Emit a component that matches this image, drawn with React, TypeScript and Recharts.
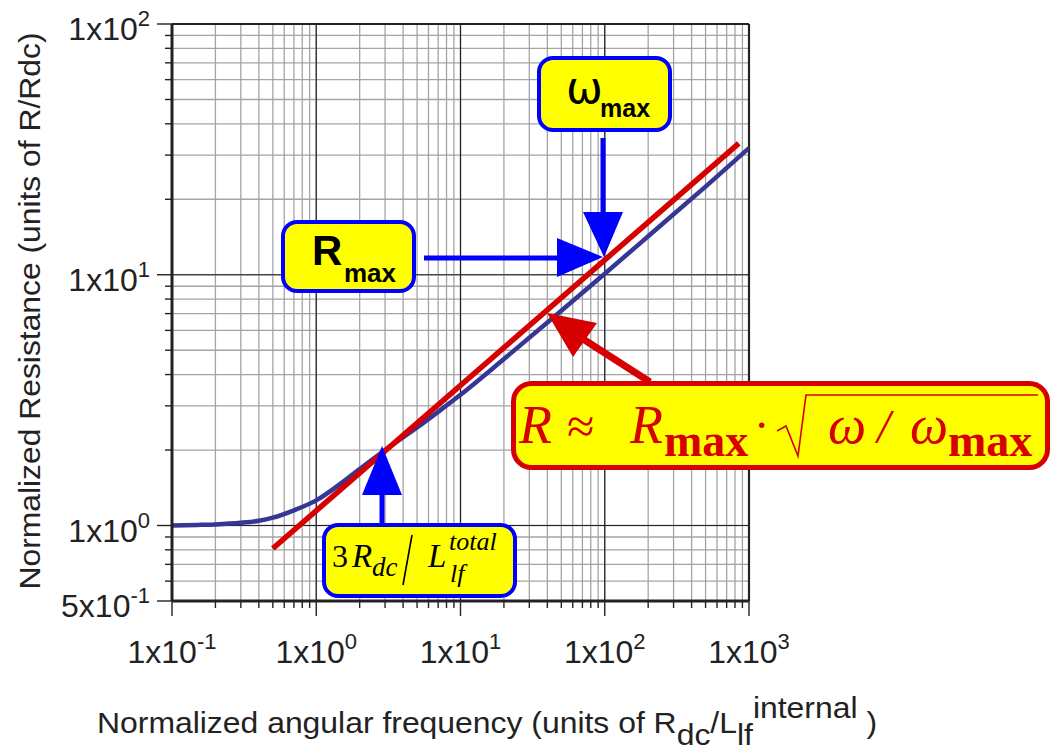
import React from 'react';
import { LineChart, Line, XAxis, YAxis, CartesianGrid, ReferenceLine } from 'recharts';

// Normalized resistance curve R/Rdc against normalized angular frequency
const omegaBlue = [0.1, 0.15, 0.2, 0.3, 0.4, 0.5, 0.7, 1, 1.5, 2, 3, 5, 7, 10, 20, 50, 100, 200, 500, 1000];
const resistanceBlue = [1.0, 1.005, 1.01, 1.025, 1.045, 1.075, 1.15, 1.26, 1.48, 1.68, 2.0, 2.46, 2.84, 3.32, 4.61, 7.19, 10.1, 14.24, 22.47, 32.0];

// High-frequency square-root asymptote
const omegaRed = [0.5, 850];
const resistanceRed = [0.81, 33.4];

// Logarithmic tick positions (every 1..9 of each decade)
const xTicks = [0.1, 0.2, 0.3, 0.4, 0.5, 0.6, 0.7, 0.8, 0.9, 1, 2, 3, 4, 5, 6, 7, 8, 9, 10, 20, 30, 40, 50, 60, 70, 80, 90, 100, 200, 300, 400, 500, 600, 700, 800, 900, 1000];
const yTicks = [0.5, 0.6, 0.7, 0.8, 0.9, 1, 2, 3, 4, 5, 6, 7, 8, 9, 10, 20, 30, 40, 50, 60, 70, 80, 90, 100];

const xMajor = [0.1, 1, 10, 100, 1000];
const xMajorBase = ['1x10', '1x10', '1x10', '1x10', '1x10'];
const xMajorExp = ['-1', '0', '1', '2', '3'];
const yMajor = [0.5, 1, 10, 100];
const yMajorBase = ['5x10', '1x10', '1x10', '1x10'];
const yMajorExp = ['-1', '0', '1', '2'];

const blueData = omegaBlue.map((w, i) => ({ w, r: resistanceBlue[i] }));
const redData = omegaRed.map((w, i) => ({ w, r: resistanceRed[i] }));

const SANS = '"Liberation Sans", Arial, Helvetica, sans-serif';
const SERIF = '"Liberation Serif", "Times New Roman", serif';
const AXIS = '#222222';
const MINOR = '#a4a4a4';
const BLUE_CURVE = '#363696';
const RED = '#d60000';
const YELLOW = '#ffff00';
const BOX_BLUE = '#0000ff';

const XTick = (props: any) => {
  const { x, y, payload } = props;
  const i = xMajor.indexOf(payload.value);
  const major = i >= 0;
  return (
    <g>
      <line x1={x} x2={x} y1={y} y2={y + (major ? 15 : 7)} stroke={AXIS} strokeWidth={1.4} />
      {major && (
        <text x={x} y={y + 62} textAnchor="middle" fontFamily={SANS} fontSize={32} fill="#222">
          <tspan>{xMajorBase[i]}</tspan>
          <tspan dy={-14} fontSize={22}>{xMajorExp[i]}</tspan>
        </text>
      )}
    </g>
  );
};

const YTick = (props: any) => {
  const { x, y, payload } = props;
  const i = yMajor.indexOf(payload.value);
  const major = i >= 0;
  return (
    <g>
      <line x1={x - (major ? 15 : 7)} x2={x} y1={y} y2={y} stroke={AXIS} strokeWidth={1.4} />
      {major && (
        <text x={x - 22} y={y + 16} textAnchor="end" fontFamily={SANS} fontSize={32} fill="#222">
          <tspan>{yMajorBase[i]}</tspan>
          <tspan dy={-14} fontSize={22}>{yMajorExp[i]}</tspan>
        </text>
      )}
    </g>
  );
};

const Annotations = () => (
  <svg
    width={1054}
    height={752}
    style={{ position: 'absolute', left: 0, top: 0, pointerEvents: 'none' }}
  >
    {/* axis titles */}
    <text
      transform="translate(40,311) rotate(-90)"
      textAnchor="middle"
      fontFamily={SANS}
      fontSize={30}
      fill="#222"
      textLength={557}
      lengthAdjust="spacingAndGlyphs"
    >
      Normalized Resistance (units of R/Rdc)
    </text>
    <text
      x={97}
      y={733}
      fontFamily={SANS}
      fontSize={30}
      fill="#222"
      textLength={780}
      lengthAdjust="spacingAndGlyphs"
    >
      <tspan>Normalized angular frequency (units of R</tspan>
      <tspan dy={12}>dc</tspan>
      <tspan dy={-12}>/L</tspan>
      <tspan dy={12}>lf</tspan>
      <tspan dy={-27}>internal</tspan>
      <tspan dy={15}> )</tspan>
    </text>

    {/* R_max arrow */}
    <line x1={424} y1={258} x2={560} y2={258} stroke={BOX_BLUE} strokeWidth={5} />
    <polygon points="557,238 557,277 603,257" fill={BOX_BLUE} />
    {/* omega_max arrow */}
    <line x1={603} y1={138} x2={603} y2={214} stroke={BOX_BLUE} strokeWidth={5} />
    <polygon points="583,212 623,212 604,257" fill={BOX_BLUE} />
    {/* corner frequency arrow */}
    <line x1={382} y1={524} x2={382} y2={492} stroke={BOX_BLUE} strokeWidth={5} />
    <polygon points="362,495 402,495 382,446" fill={BOX_BLUE} />
    {/* asymptote arrow */}
    <line x1={650} y1={382} x2={583} y2={339} stroke={RED} strokeWidth={7} />
    <polygon points="547,313 597,323 573,357" fill={RED} />

    {/* R_max box */}
    <rect x={283} y={222} width={131} height={69} rx={14} fill={YELLOW} stroke={BOX_BLUE} strokeWidth={4} />
    <text x={312} y={265} fontFamily={SANS} fontWeight="bold" fontSize={42} fill="#000">R</text>
    <text x={344} y={282} fontFamily={SANS} fontWeight="bold" fontSize={26} fill="#000">max</text>

    {/* omega_max box */}
    <rect x={539} y={58} width={131} height={72} rx={14} fill={YELLOW} stroke={BOX_BLUE} strokeWidth={4} />
    <text x={566} y={103} fontFamily='"DejaVu Sans", sans-serif' fontSize={44} fill="#000">ω</text>
    <text x={600} y={117} fontFamily={SANS} fontWeight="bold" fontSize={25} fill="#000">max</text>

    {/* 3 Rdc / L_lf^total box */}
    <rect x={324} y={525} width={191} height={71} rx={14} fill={YELLOW} stroke={BOX_BLUE} strokeWidth={4} />
    <text x={332} y={567} fontFamily={SERIF} fontSize={32} fill="#000">3</text>
    <text x={352} y={567} fontFamily={SERIF} fontStyle="italic" fontSize={33} fill="#000">R</text>
    <text x={372} y={576} fontFamily={SERIF} fontStyle="italic" fontSize={27} fill="#000">dc</text>
    <line x1={412} y1={535} x2={403} y2={585} stroke="#000" strokeWidth={1.6} />
    <text x={428} y={567} fontFamily={SERIF} fontStyle="italic" fontSize={33} fill="#000">L</text>
    <text x={449} y={550} fontFamily={SERIF} fontStyle="italic" fontSize={26} fill="#000">total</text>
    <text x={450} y={582} fontFamily={SERIF} fontStyle="italic" fontSize={26} fill="#000">lf</text>

    {/* asymptote formula box */}
    <rect x={513.5} y={383.5} width={534} height={84} rx={18} fill={YELLOW} stroke={RED} strokeWidth={5} />
    <g fontFamily={SERIF} fill={RED}>
      <text x={519} y={443} fontStyle="italic" fontSize={54}>R</text>
      <text x={567} y={443} fontSize={50}>≈</text>
      <text x={630} y={443} fontStyle="italic" fontSize={54}>R</text>
      <text x={664} y={456} fontWeight="bold" fontSize={46}>max</text>
      <text x={756} y={436} fontWeight="bold" fontSize={34}>·</text>
      <text x={828} y={443} fontStyle="italic" fontSize={54}>ω</text>
      <text x={877} y={443} fontStyle="italic" fontSize={48}>/</text>
      <text x={910} y={443} fontStyle="italic" fontSize={54}>ω</text>
      <text x={948} y={456} fontWeight="bold" fontSize={46}>max</text>
    </g>
    {/* radical sign with its overbar */}
    <path
      d="M 777 431 L 786 426 L 798 456 L 806 395 L 1038 395"
      fill="none"
      stroke={RED}
      strokeWidth={1.6}
      strokeLinejoin="miter"
    />
  </svg>
);

export default function App() {
  return (
    <div style={{ position: 'absolute', left: 0, top: 0, width: 1054, height: 752, background: '#fff' }}>
      <LineChart width={1054} height={752} margin={{ top: 24, right: 305, bottom: 0, left: 0 }}>
        <CartesianGrid stroke={MINOR} strokeWidth={1.3} />
        <XAxis
          dataKey="w"
          type="number"
          scale="log"
          domain={[0.1, 1000]}
          allowDataOverflow
          ticks={xTicks}
          interval={0}
          height={151}
          tickSize={0}
          tickMargin={0}
          tickLine={false}
          axisLine={{ stroke: AXIS, strokeWidth: 3 }}
          tick={<XTick />}
        />
        <YAxis
          dataKey="r"
          type="number"
          scale="log"
          domain={[0.5, 100]}
          allowDataOverflow
          ticks={yTicks}
          interval={0}
          width={172}
          tickSize={0}
          tickMargin={0}
          tickLine={false}
          axisLine={{ stroke: AXIS, strokeWidth: 3 }}
          tick={<YTick />}
        />
        <ReferenceLine x={1} stroke={AXIS} strokeWidth={1.2} />
        <ReferenceLine x={10} stroke={AXIS} strokeWidth={1.2} />
        <ReferenceLine x={100} stroke={AXIS} strokeWidth={1.2} />
        <ReferenceLine y={1} stroke={AXIS} strokeWidth={1.2} />
        <ReferenceLine y={10} stroke={AXIS} strokeWidth={1.2} />
        <ReferenceLine x={1000} stroke={AXIS} strokeWidth={2.2} />
        <ReferenceLine y={100} stroke={AXIS} strokeWidth={2.2} />
        <Line
          data={blueData}
          dataKey="r"
          type="monotone"
          stroke={BLUE_CURVE}
          strokeWidth={4.5}
          dot={false}
          activeDot={false}
          isAnimationActive={false}
        />
        <Line
          data={redData}
          dataKey="r"
          type="linear"
          stroke={RED}
          strokeWidth={5.5}
          dot={false}
          activeDot={false}
          isAnimationActive={false}
        />
      </LineChart>
      <Annotations />
    </div>
  );
}
